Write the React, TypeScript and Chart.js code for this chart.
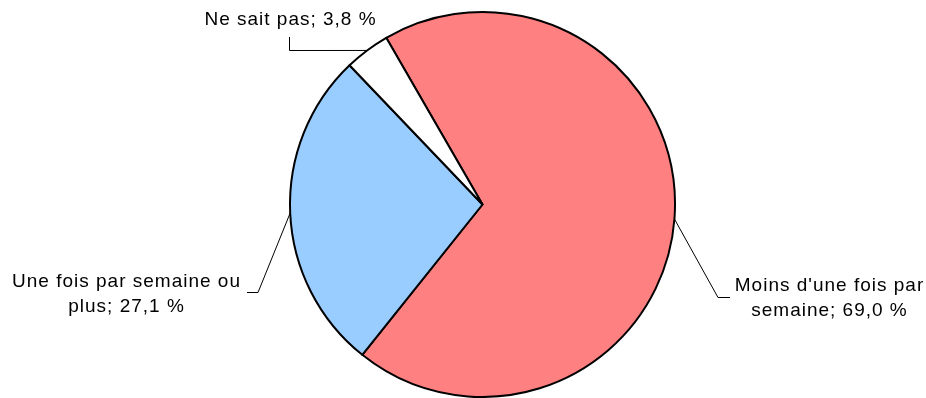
import React, { useEffect, useRef } from "react";
import { Chart, registerables } from "chart.js";

Chart.register(...registerables);

// Survey answers, in drawing order (clockwise from the top)
const categories: string[][] = [
  ["Moins d'une fois par", "semaine"],
  ["Une fois par semaine ou", "plus"],
  ["Ne sait pas"],
];
const shares: number[] = [69.0, 27.1, 3.8];
const sliceColors: string[] = ["#FF8080", "#99CCFF", "#FFFFFF"];

// Where each callout ends and where its text sits
const callouts = [
  { elbow: [718, 297.5], end: [730, 297.5], textX: 829, baseline: 290.5 },
  { elbow: [258, 292.5], end: [247, 292.5], textX: 126, baseline: 287 },
  { elbow: [289.5, 50.5], end: [289.5, 37], textX: 290, baseline: 25 },
];

const FONT = '19px "Liberation Sans", Arial, sans-serif';
const LINE_HEIGHT = 25;

const formatShare = (v: number) => v.toFixed(1).replace(".", ",") + " %";

const calloutPlugin = {
  id: "callouts",
  afterDraw(chart: Chart) {
    const ctx = chart.ctx;
    const meta = chart.getDatasetMeta(0);
    ctx.save();
    meta.data.forEach((el: any, i: number) => {
      const c = callouts[i];
      if (!c) return;
      const { x, y, startAngle, endAngle, outerRadius } = el.getProps(
        ["x", "y", "startAngle", "endAngle", "outerRadius"],
        true
      );
      const mid = (startAngle + endAngle) / 2;
      const px = x + Math.cos(mid) * outerRadius;
      const py = y + Math.sin(mid) * outerRadius;
      ctx.strokeStyle = "#000000";
      ctx.lineWidth = 1;
      ctx.beginPath();
      ctx.moveTo(px, py);
      ctx.lineTo(c.elbow[0], c.elbow[1]);
      ctx.lineTo(c.end[0], c.end[1]);
      ctx.stroke();

      const lines = categories[i].slice();
      lines[lines.length - 1] += "; " + formatShare(shares[i]);
      ctx.font = FONT;
      (ctx as any).letterSpacing = "1px";
      ctx.fillStyle = "#000000";
      ctx.textAlign = "center";
      ctx.textBaseline = "alphabetic";
      lines.forEach((line, k) => {
        ctx.fillText(line, c.textX + 0.5, c.baseline + k * LINE_HEIGHT);
      });
    });
    ctx.restore();
  },
};

export default function App() {
  const canvasRef = useRef<HTMLCanvasElement>(null);

  useEffect(() => {
    if (!canvasRef.current) return;
    const chart = new Chart(canvasRef.current, {
      type: "pie",
      data: {
        labels: categories.map((c) => c.join(" ")),
        datasets: [
          {
            data: shares,
            backgroundColor: sliceColors,
            borderColor: "#000000",
            borderWidth: 2,
            borderJoinStyle: "round",
            hoverOffset: 0,
          },
        ],
      },
      options: {
        responsive: false,
        animation: false,
        devicePixelRatio: 1,
        rotation: -30,
        radius: 192.5,
        layout: { padding: { left: 39, top: 11, right: 0, bottom: 0 } },
        plugins: {
          legend: { display: false },
          tooltip: { enabled: false },
        },
      },
      plugins: [calloutPlugin],
    });
    return () => chart.destroy();
  }, []);

  return (
    <div style={{ position: "fixed", left: 0, top: 0, width: 926, height: 398, background: "#ffffff" }}>
      <canvas ref={canvasRef} width={926} height={398} />
    </div>
  );
}
